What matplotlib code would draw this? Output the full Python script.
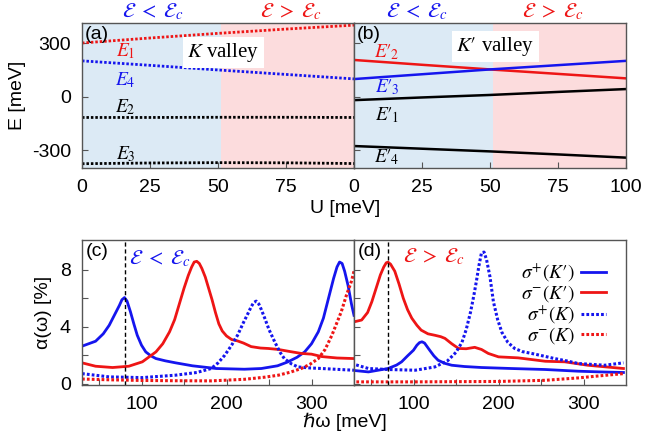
import matplotlib
matplotlib.use("Agg")
import matplotlib.pyplot as plt
import matplotlib.transforms as mtransforms

plt.rcParams['font.family'] = ['Liberation Sans', 'DejaVu Sans']
plt.rcParams['mathtext.fontset'] = 'stix'
plt.rcParams['font.size'] = 14
plt.rcParams['axes.unicode_minus'] = False

# --- top panels: energy levels vs U ---
U = [0, 25, 50, 75, 100]
E1 = [300, 328, 354, 378, 400]
E4 = [200, 175, 149, 124, 99]
E2 = [-117, -117, -116, -116, -117]
E3 = [-376, -372, -370, -371, -375]

E2p = [205, 178, 152, 127, 102]
E3p = [98, 125, 152, 176, 200]
E1p = [-20, -5, 9, 26, 42]
E4p = [-277, -292, -307, -324, -342]

U_crit = 51

# --- bottom panels: absorption spectra ---
# (c) E < Ec
c_bs_x = [30, 46, 55, 62, 68, 74, 77, 80, 83, 87, 91, 95, 100, 105, 111, 117, 128, 140, 160, 188,
          221, 241, 260, 272, 283, 292, 300, 308, 314, 320, 326, 330, 333, 336, 339, 343, 347, 350]
c_bs_y = [2.63, 2.98, 3.5, 4.1, 4.8, 5.5, 5.9, 6.05, 5.8, 5.05, 4.2, 3.4, 2.7, 2.23, 1.95, 1.76, 1.6, 1.46, 1.25, 1.06,
          1.01, 1.06, 1.25, 1.52, 1.85, 2.23, 2.8, 3.64, 4.6, 6.0, 7.4, 8.2, 8.55, 8.45, 7.9, 6.9, 5.6, 4.8]

c_rs_x = [30, 46, 66, 85, 101, 117, 125, 133, 139, 144, 150, 155, 159, 162, 165, 168, 171, 175, 179, 183,
          187, 191, 195, 200, 206, 213, 220, 229, 240, 249, 261, 275, 288, 300, 312, 330, 350]
c_rs_y = [1.46, 1.22, 1.13, 1.22, 1.53, 2.23, 2.8, 3.64, 4.5, 5.5, 6.7, 7.6, 8.2, 8.55, 8.6, 8.45, 8.1, 7.5, 6.7, 5.9,
          5.0, 4.2, 3.7, 3.35, 3.1, 3.0, 2.85, 2.6, 2.5, 2.47, 2.4, 2.25, 2.12, 2.07, 1.9, 1.8, 1.76]

c_bd_x = [30, 62, 101, 140, 165, 182, 190, 198, 206, 213, 220, 225, 229, 232, 235, 238, 241, 245, 250, 257,
          263, 268, 276, 284, 298, 312, 330, 350]
c_bd_y = [0.7, 0.47, 0.42, 0.59, 0.78, 1.06, 1.45, 2.0, 2.7, 3.4, 4.3, 4.9, 5.4, 5.7, 5.8, 5.6, 5.2, 4.6, 3.8, 2.9,
          2.2, 1.76, 1.4, 1.17, 1.1, 1.06, 1.0, 0.94]

c_rd_x = [30, 60, 100, 140, 182, 221, 245, 261, 275, 288, 298, 308, 316, 324, 330, 335, 341, 347, 350]
c_rd_y = [0.32, 0.27, 0.22, 0.2, 0.19, 0.3, 0.45, 0.59, 0.8, 1.06, 1.35, 1.76, 2.4, 3.4, 4.3, 5.05, 6.2, 7.2, 7.9]

# (d) E > Ec
d_bs_x = [27, 47, 70, 80, 86, 93, 100, 104, 107, 110, 113, 116, 119, 124, 129, 137, 145, 160, 180,
          215, 255, 294, 320, 347]
d_bs_y = [0.94, 0.82, 1.06, 1.3, 1.53, 1.95, 2.35, 2.7, 2.88, 2.94, 2.85, 2.6, 2.35, 1.95, 1.64, 1.42, 1.29, 1.2, 1.13,
          1.06, 0.99, 0.87, 0.82, 0.78]

d_rs_x = [27, 39, 46, 51, 56, 61, 65, 68, 70, 73, 78, 83, 88, 93, 98, 104, 109, 117, 125, 132, 137,
          145, 153, 162, 172, 180, 188, 200, 223, 255, 278, 305, 347]
d_rs_y = [4.3, 4.47, 5.0, 5.76, 6.7, 7.64, 8.2, 8.5, 8.54, 8.4, 7.9, 7.0, 6.0, 5.2, 4.6, 4.1, 3.76, 3.5, 3.4, 3.3, 3.18,
          2.8, 2.47, 2.45, 2.55, 2.4, 2.12, 1.88, 1.81, 1.57, 1.53, 1.29, 1.06]

d_bd_x = [27, 47, 70, 102, 125, 140, 150, 157, 162, 167, 171, 174, 177, 180, 183, 186, 190, 194, 199,
          204, 211, 219, 228, 239, 252, 266, 280, 294, 310, 325, 347]
d_bd_y = [1.41, 1.06, 0.99, 0.94, 1.17, 1.6, 2.2, 2.9, 3.8, 5.0, 6.2, 7.2, 8.3, 9.2, 9.25, 8.7, 7.5, 5.76, 4.5,
          3.6, 2.9, 2.47, 2.25, 2.12, 1.95, 1.76, 1.6, 1.41, 1.35, 1.29, 1.46]

d_rd_x = [27, 100, 200, 255, 294, 320, 347]
d_rd_y = [0.12, 0.12, 0.15, 0.23, 0.4, 0.55, 0.7]

c_vline = 80
d_vline = 70

BLUE = '#1515ee'
RED = '#ee1515'
SHADE_B = '#dceaf5'
SHADE_R = '#fcdcdd'
SPINE = '#555555'

W, H = 645, 447
fig = plt.figure(figsize=(W / 100, H / 100), dpi=100)


def rect(x0, y0, x1, y1):
    return [x0 / W, 1 - y1 / H, (x1 - x0) / W, (y1 - y0) / H]


ax_a = fig.add_axes(rect(82, 23, 354, 168))
ax_b = fig.add_axes(rect(354, 23, 626, 168))
ax_c = fig.add_axes(rect(82, 240, 354, 385))
ax_d = fig.add_axes(rect(354, 240, 626, 385))

for ax in (ax_a, ax_b, ax_c, ax_d):
    for s in ax.spines.values():
        s.set_color(SPINE)
        s.set_linewidth(1.0)
    ax.tick_params(direction='in', length=4, width=0.8, color=SPINE, labelsize=14, pad=8)

dots = (0, (0.9, 0.7))
LT = r'$\mathcal{E}\ <\ \mathcal{E}_c$'
GT = r'$\mathcal{E}\ >\ \mathcal{E}_c$'

# top panels
for ax in (ax_a, ax_b):
    ax.set_xlim(0, 100)
    ax.set_ylim(-400, 412)
    ax.axvspan(0, U_crit, color=SHADE_B, lw=0, zorder=0)
    ax.axvspan(U_crit, 100, color=SHADE_R, lw=0, zorder=0)
    ax.set_xticks([0, 25, 50, 75, 100])
    ax.set_yticks([-300, 0, 300])

ax_a.plot(U, E1, color=RED, lw=2, ls=dots)
ax_a.plot(U, E4, color=BLUE, lw=2, ls=dots)
ax_a.plot(U, E2, color='black', lw=2, ls=dots)
ax_a.plot(U, E3, color='black', lw=2, ls=dots)
ax_a.set_xticklabels(['0', '25', '50', '75', ''])
ax_a.set_ylabel('E [meV]', labelpad=4)

ax_b.plot(U, E2p, color=RED, lw=1.8)
ax_b.plot(U, E3p, color=BLUE, lw=1.8)
ax_b.plot(U, E1p, color='black', lw=1.8)
ax_b.plot(U, E4p, color='black', lw=1.8)
ax_b.set_yticklabels([])

fig.text(0.535, 1 - 209 / H, 'U [meV]', ha='center', va='center', fontsize=14)

ax_a.text(1, 350, '(a)', fontsize=14, va='center', ha='left')
ax_b.text(1, 345, '(b)', fontsize=14, va='center', ha='left')
ax_a.text(52, 245, r'$K$ valley', fontsize=15, ha='center', va='center',
          family=['Liberation Serif', 'DejaVu Serif'],
          bbox=dict(facecolor='white', edgecolor='none', pad=3))
ax_b.text(52, 280, r"$K′$ valley", fontsize=15, ha='center', va='center',
          family=['Liberation Serif', 'DejaVu Serif'],
          bbox=dict(facecolor='white', edgecolor='none', pad=3))

lab = dict(fontsize=14, ha='center', va='center')
ax_a.text(16, 252, r'$E_1$', color=RED, **lab)
ax_a.text(16, 92, r'$E_4$', color=BLUE, **lab)
ax_a.text(16, -62, r'$E_2$', color='black', **lab)
ax_a.text(16, -322, r'$E_3$', color='black', **lab)
ax_b.text(12, 250, r"$E′_{\!2}$", color=RED, **lab)
ax_b.text(12, 50, r"$E′_{\!3}$", color=BLUE, **lab)
ax_b.text(12, -105, r"$E′_{\!1}$", color='black', **lab)
ax_b.text(12, -340, r"$E′_{\!4}$", color='black', **lab)

for ax, xb, xr in ((ax_a, 26, 77), (ax_b, 23, 73)):
    tr = mtransforms.blended_transform_factory(ax.transData, ax.transAxes)
    ax.text(xb, 1.08, LT, color=BLUE, transform=tr, ha='center', va='center', fontsize=15)
    ax.text(xr, 1.08, GT, color=RED, transform=tr, ha='center', va='center', fontsize=15)

# bottom panels
for ax in (ax_c, ax_d):
    ax.set_xlim(30, 350)
    ax.set_ylim(-0.1, 10.1)
    ax.set_xticks([50, 100, 150, 200, 250, 300])
    ax.set_xticklabels(['', '100', '', '200', '', '300'])
    ax.set_yticks([0, 2, 4, 6, 8])

ax_c.set_yticklabels(['0', '', '4', '', '8'])
ax_d.set_yticklabels([])

ax_c.plot(c_bs_x, c_bs_y, color=BLUE, lw=2)
ax_c.plot(c_rs_x, c_rs_y, color=RED, lw=2)
ax_c.plot(c_bd_x, c_bd_y, color=BLUE, lw=2.2, ls=dots)
ax_c.plot(c_rd_x, c_rd_y, color=RED, lw=2.2, ls=dots)
ax_c.axvline(c_vline, color='black', lw=1, ls=(0, (3, 2)))

ax_d.plot(d_bs_x, d_bs_y, color=BLUE, lw=2, label=r"$\sigma^{+}(K′)$")
ax_d.plot(d_rs_x, d_rs_y, color=RED, lw=2, label=r"$\sigma^{-}(K′)$")
ax_d.plot(d_bd_x, d_bd_y, color=BLUE, lw=2.2, ls=dots, label=r"$\sigma^{+}(K)$")
ax_d.plot(d_rd_x, d_rd_y, color=RED, lw=2.2, ls=dots, label=r"$\sigma^{-}(K)$")
ax_d.axvline(d_vline, color='black', lw=1, ls=(0, (3, 2)))

ax_c.set_ylabel(r'α(ω) [%]', labelpad=6)
fig.text(0.535, 1 - 422 / H, 'ℏω [meV]', ha='center', va='center', fontsize=14)

ax_c.text(34, 9.3, '(c)', fontsize=14, va='center', ha='left')
ax_d.text(34, 9.3, '(d)', fontsize=14, va='center', ha='left')
ax_c.text(122, 8.8, LT, color=BLUE, fontsize=15, ha='center', va='center')
ax_d.text(124, 8.9, GT, color=RED, fontsize=15, ha='center', va='center')

leg = ax_d.legend(loc='upper right', frameon=False, markerfirst=False, fontsize=14,
                  handlelength=1.3, handletextpad=0.3, labelspacing=-0.05,
                  borderaxespad=0.2, bbox_to_anchor=(0.97, 0.93))
for col in leg._legend_handle_box.get_children():
    col.align = 'right'

fig.savefig('out.png', dpi=100)
